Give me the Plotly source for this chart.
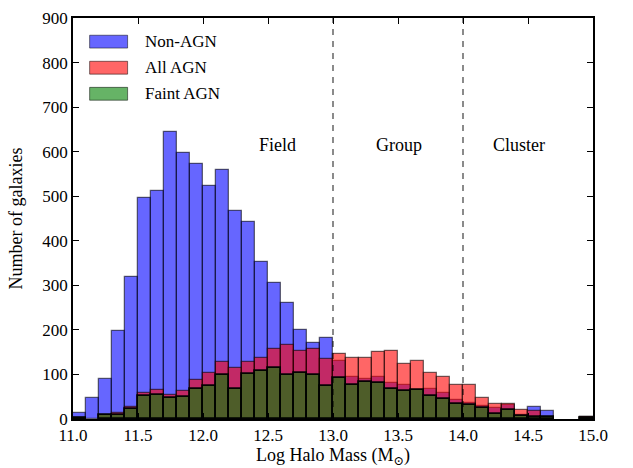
import plotly.graph_objects as go

bin_left = [round(11.0 + 0.1 * i, 1) for i in range(40)]
non_agn = [14, 48, 90, 198, 319, 497, 512, 645, 598, 573, 524, 558, 466, 442, 353,
           306, 261, 200, 171, 182, 131, 95, 90, 94, 81, 77, 66, 68, 59, 42,
           35, 30, 25, 32, 10, 27, 19, 0, 0, 4]
all_agn = [3, 0, 10, 13, 27, 59, 66, 54, 62, 87, 104, 127, 115, 127, 137,
           157, 165, 152, 157, 135, 147, 137, 136, 151, 152, 124, 130, 104, 95, 77,
           77, 48, 33, 34, 20, 18, 4, 0, 0, 4]
faint_agn = [3, 0, 8, 10, 23, 51, 54, 48, 50, 68, 75, 98, 68, 100, 107,
             115, 98, 104, 98, 74, 91, 76, 83, 81, 68, 62, 65, 51, 44, 33,
             31, 25, 12, 20, 6, 5, 4, 0, 0, 2]
series_names = ["Non-AGN", "All AGN", "Faint AGN"]
region_labels = ["Field", "Group", "Cluster"]
region_x = [12.57, 13.51, 14.43]
region_y = 615
dividers = [13.0, 14.0]
x_ticks = [11.0, 11.5, 12.0, 12.5, 13.0, 13.5, 14.0, 14.5, 15.0]
y_ticks = [0, 100, 200, 300, 400, 500, 600, 700, 800, 900]

FONT = "'Liberation Serif', 'DejaVu Serif', serif"
fills = ["rgba(0,0,255,0.6)", "rgba(255,0,0,0.6)", "rgba(0,128,0,0.6)"]
lines = ["rgba(0,0,0,0.55)", "rgba(0,0,0,0.55)", "rgba(0,0,0,0.95)"]
widths = [1.3, 1.3, 1.8]

centers = [b + 0.05 for b in bin_left]
fig = go.Figure()
for name, vals, fc, lc, lw in zip(series_names, [non_agn, all_agn, faint_agn], fills, lines, widths):
    yv = [v if v > 0 else None for v in vals]
    fig.add_trace(go.Bar(x=centers, y=yv, width=0.1, name=name,
                         marker=dict(color=fc, line=dict(color=lc, width=lw)),
                         showlegend=False))

shapes = []
for d in dividers:
    shapes.append(dict(type="line", xref="x", yref="y", x0=d, x1=d, y0=0, y1=900,
                       line=dict(color="rgba(0,0,0,0.7)", width=1.3, dash="6px,6px")))

annotations = []
for lab, xx in zip(region_labels, region_x):
    annotations.append(dict(x=xx, y=region_y, xref="x", yref="y", text=lab, showarrow=False,
                            font=dict(family=FONT, size=18, color="black")))

# manual legend (wide patches like matplotlib)
leg_y = [0.941, 0.876, 0.811]
for name, fc, yy in zip(series_names, fills, leg_y):
    shapes.append(dict(type="rect", xref="paper", yref="paper", x0=0.032, x1=0.105,
                       y0=yy - 0.016, y1=yy + 0.016, fillcolor=fc,
                       line=dict(color="rgba(0,0,0,0.5)", width=1)))
    annotations.append(dict(x=0.134, y=yy, xref="paper", yref="paper", text=name,
                            showarrow=False, xanchor="left", yanchor="middle",
                            font=dict(family=FONT, size=17, color="black")))

fig.update_layout(
    width=633, height=468,
    margin=dict(l=73, r=40, t=18, b=49),
    paper_bgcolor="white", plot_bgcolor="white",
    barmode="overlay", bargap=0,
    shapes=shapes, annotations=annotations,
    font=dict(family=FONT, size=17, color="black"),
    xaxis=dict(range=[11.0, 15.0], tickvals=x_ticks, ticktext=[f"{v:.1f}" for v in x_ticks],
               ticks="inside", ticklen=6, tickwidth=1, tickcolor="black",
               automargin=False,
               showline=True, linecolor="black", linewidth=1.5, mirror="ticks",
               showgrid=False, zeroline=False,
               title=dict(text="Log Halo Mass (M<sub>⊙</sub>)",
                          font=dict(family=FONT, size=18))),
    yaxis=dict(range=[0, 900], tickvals=y_ticks, automargin=False,
               ticks="inside", ticklen=6, tickwidth=1, tickcolor="black",
               showline=True, linecolor="black", linewidth=1.5, mirror="ticks",
               showgrid=False, zeroline=False,
               title=dict(text="Number of galaxies",
                          font=dict(family=FONT, size=18))),
)

fig.write_html("out.html")
